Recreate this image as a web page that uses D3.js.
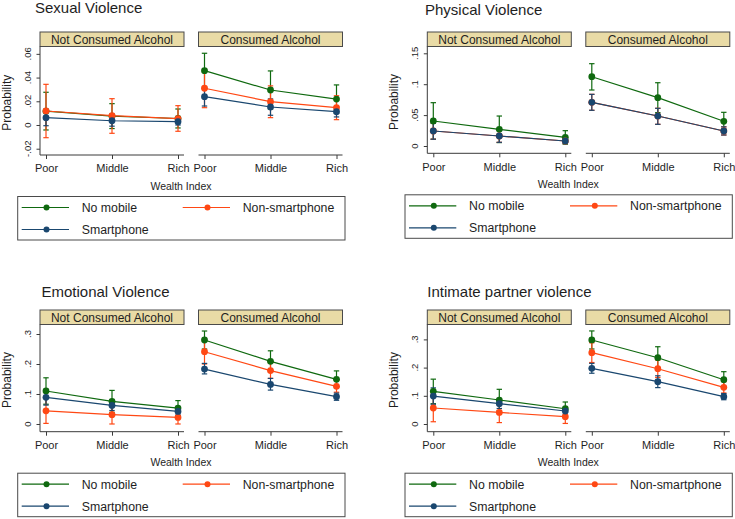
<!DOCTYPE html>
<html>
<head>
<meta charset="utf-8">
<script src="https://cdn.jsdelivr.net/npm/d3@7"></script>
<style>
  html, body { margin: 0; padding: 0; background: #ffffff; }
  svg { display: block; font-family: "Liberation Sans", Arial, sans-serif; }
</style>
</head>
<body>
<script>
// ---------------- DATA ----------------
const wealth = ["Poor", "Middle", "Rich"];
const alcoholGroups = ["Not Consumed Alcohol", "Consumed Alcohol"];
const phoneGroups = ["No mobile", "Non-smartphone", "Smartphone"];
const panelTitles = ["Sexual Violence", "Physical Violence", "Emotional Violence", "Intimate partner violence"];
const xTitle = "Wealth Index";
const yTitle = "Probability";

// values indexed [phone group][alcohol group][wealth]
const sexualMean = [
  [[0.0117, 0.0075, 0.0055], [0.0458, 0.0295, 0.0219]],
  [[0.0118, 0.0079, 0.0053], [0.0310, 0.0197, 0.0146]],
  [[0.0062, 0.0036, 0.0028], [0.0239, 0.0152, 0.0112]]
];
const sexualLow = [
  [[-0.0042, -0.0030, -0.0025], [0.0310, 0.0135, 0.0100]],
  [[-0.0107, -0.0070, -0.0053], [0.0146, 0.0062, 0.0045]],
  [[-0.0006, -0.0010, 0.0000], [0.0160, 0.0082, 0.0068]]
];
const sexualHigh = [
  [[0.0276, 0.0180, 0.0135], [0.0605, 0.0456, 0.0338]],
  [[0.0343, 0.0222, 0.0163], [0.0470, 0.0330, 0.0247]],
  [[0.0130, 0.0080, 0.0055], [0.0320, 0.0220, 0.0156]]
];
const sexualTicks = [-0.02, 0, 0.02, 0.04, 0.06];
const sexualTickLabels = ["-.02", "0", ".02", ".04", ".06"];

const physicalMean = [
  [[0.0405, 0.0270, 0.0140], [0.1121, 0.0782, 0.0400]],
  [[0.0243, 0.0162, 0.0081], [0.0707, 0.0485, 0.0243]],
  [[0.0243, 0.0162, 0.0081], [0.0707, 0.0485, 0.0243]]
];
const physicalLow = [
  [[0.0110, 0.0055, 0.0030], [0.0906, 0.0540, 0.0255]],
  [[0.0110, 0.0060, 0.0040], [0.0578, 0.0351, 0.0178]],
  [[0.0110, 0.0060, 0.0040], [0.0578, 0.0351, 0.0178]]
];
const physicalHigh = [
  [[0.0701, 0.0485, 0.0248], [0.1332, 0.1024, 0.0545]],
  [[0.0370, 0.0260, 0.0120], [0.0836, 0.0610, 0.0310]],
  [[0.0370, 0.0260, 0.0120], [0.0836, 0.0610, 0.0310]]
];
const physicalTicks = [0, 0.05, 0.1, 0.15];
const physicalTickLabels = ["0", ".05", ".1", ".15"];

const emotionalMean = [
  [[0.110, 0.0756, 0.053], [0.280, 0.209, 0.149]],
  [[0.044, 0.031, 0.022], [0.241, 0.178, 0.1256]],
  [[0.089, 0.062, 0.042], [0.183, 0.132, 0.091]]
];
const emotionalLow = [
  [[0.066, 0.039, 0.028], [0.250, 0.174, 0.121]],
  [[0.002, 0.000, 0.000], [0.200, 0.152, 0.106]],
  [[0.063, 0.045, 0.030], [0.167, 0.113, 0.079]]
];
const emotionalHigh = [
  [[0.154, 0.112, 0.078], [0.310, 0.244, 0.177]],
  [[0.086, 0.062, 0.044], [0.282, 0.204, 0.145]],
  [[0.115, 0.080, 0.055], [0.202, 0.152, 0.103]]
];
const emotionalTicks = [0, 0.1, 0.2, 0.3];
const emotionalTickLabels = ["0", ".1", ".2", ".3"];

const ipvMean = [
  [[0.1157, 0.085, 0.054], [0.298, 0.235, 0.157]],
  [[0.0567, 0.041, 0.026], [0.253, 0.196, 0.130]],
  [[0.099, 0.072, 0.046], [0.1975, 0.150, 0.097]]
];
const ipvLow = [
  [[0.072, 0.047, 0.030], [0.266, 0.196, 0.129]],
  [[0.008, 0.005, 0.002], [0.218, 0.165, 0.110]],
  [[0.070, 0.055, 0.035], [0.180, 0.129, 0.086]]
];
const ipvHigh = [
  [[0.159, 0.123, 0.078], [0.330, 0.274, 0.1855]],
  [[0.105, 0.077, 0.050], [0.288, 0.227, 0.150]],
  [[0.128, 0.089, 0.057], [0.215, 0.171, 0.108]]
];
const ipvTicks = [0, 0.1, 0.2, 0.3];
const ipvTickLabels = ["0", ".1", ".2", ".3"];

// ---------------- STYLE / LAYOUT ----------------
const colors = ["#0f690f", "#ff4814", "#1a476f"];
const stripFill = "#e9dba6";
const axisColor = "#3a3a3a";
const textColor = "#1e1e1e";

const panels = [
  { title: panelTitles[0], mean: sexualMean, low: sexualLow, high: sexualHigh, ticks: sexualTicks, tickLabels: sexualTickLabels,
    domain: [-0.0253, 0.0662], ox: 40, stripTop: 32, plotBottom: 155, titleX: 35, titleY: 12.5 },
  { title: panelTitles[1], mean: physicalMean, low: physicalLow, high: physicalHigh, ticks: physicalTicks, tickLabels: physicalTickLabels,
    domain: [-0.0118, 0.1610], ox: 427.3, stripTop: 32, plotBottom: 153.3, titleX: 425, titleY: 15 },
  { title: panelTitles[2], mean: emotionalMean, low: emotionalLow, high: emotionalHigh, ticks: emotionalTicks, tickLabels: emotionalTickLabels,
    domain: [-0.0257, 0.3317], ox: 40, stripTop: 310, plotBottom: 431.7, titleX: 41.5, titleY: 297 },
  { title: panelTitles[3], mean: ipvMean, low: ipvLow, high: ipvHigh, ticks: ipvTicks, tickLabels: ipvTickLabels,
    domain: [-0.0273, 0.3528], ox: 427.3, stripTop: 310, plotBottom: 431.7, titleX: 427.3, titleY: 297 }
];

const stripH = 14.5, subW = 144, subGap = 158.5;

const svg = d3.select("body").append("svg").attr("width", 735).attr("height", 519);

panels.forEach(p => {
  const g = svg.append("g");
  const plotTop = p.stripTop + stripH;
  const y = d3.scaleLinear().domain(p.domain).range([p.plotBottom, plotTop]);

  g.append("text").attr("x", p.titleX).attr("y", p.titleY)
    .attr("font-size", 15).attr("fill", textColor).text(p.title);

  alcoholGroups.forEach((ag, a) => {
    const x0 = p.ox + a * subGap, x1 = x0 + subW;
    const x = d3.scalePoint().domain(wealth).range([x0 + 6, x1 - 6]);

    // strip
    g.append("rect").attr("x", x0).attr("y", p.stripTop).attr("width", subW).attr("height", stripH)
      .attr("fill", stripFill).attr("stroke", "#4a4a4a").attr("stroke-width", 1);
    g.append("text").attr("x", (x0 + x1) / 2).attr("y", p.stripTop + stripH / 2).attr("dy", "0.36em")
      .attr("text-anchor", "middle").attr("font-size", 12).attr("fill", textColor).text(ag);

    // x axis
    const xa = g.append("g").attr("transform", `translate(0,${p.plotBottom})`)
      .call(d3.axisBottom(x).tickSize(4).tickPadding(5.5).tickSizeOuter(0));
    xa.select(".domain").remove();
    xa.selectAll(".tick line").attr("stroke", axisColor);
    xa.selectAll(".tick text").attr("font-size", 11).attr("fill", textColor)
      .attr("font-family", "Liberation Sans, Arial, sans-serif");
    g.append("line").attr("x1", x0).attr("x2", x1).attr("y1", p.plotBottom).attr("y2", p.plotBottom)
      .attr("stroke", axisColor).attr("stroke-width", 1);

    // y axis (left subplot only)
    if (a === 0) {
      g.append("line").attr("x1", x0).attr("x2", x0).attr("y1", plotTop).attr("y2", p.plotBottom)
        .attr("stroke", axisColor).attr("stroke-width", 1);
      const ya = g.append("g").attr("transform", `translate(${x0},0)`)
        .call(d3.axisLeft(y).tickValues(p.ticks).tickSize(3.5).tickFormat(() => ""));
      ya.select(".domain").remove();
      ya.selectAll(".tick line").attr("stroke", axisColor);
      p.ticks.forEach((t, i) => {
        const tx = x0 - 12.5, ty = y(t);
        g.append("text").attr("x", tx).attr("y", ty).attr("dy", "0.35em")
          .attr("transform", `rotate(-90,${tx},${ty})`)
          .attr("text-anchor", "middle").attr("font-size", 9.5).attr("fill", textColor)
          .text(p.tickLabels[i]);
      });
      const lx = x0 - 33, ly = (plotTop + p.plotBottom) / 2 + 2;
      g.append("text").attr("x", lx).attr("y", ly).attr("dy", "0.35em")
        .attr("transform", `rotate(-90,${lx},${ly})`)
        .attr("text-anchor", "middle").attr("font-size", 12).attr("fill", textColor).text(yTitle);
    }

    // confidence intervals
    phoneGroups.forEach((pg, s) => {
      wealth.forEach((w, i) => {
        const cx = x(w), lo = y(p.low[s][a][i]), hi = y(p.high[s][a][i]);
        const c = colors[s];
        g.append("line").attr("x1", cx).attr("x2", cx).attr("y1", lo).attr("y2", hi)
          .attr("stroke", c).attr("stroke-width", 1.2);
        [lo, hi].forEach(yy => g.append("line").attr("x1", cx - 2.7).attr("x2", cx + 2.7)
          .attr("y1", yy).attr("y2", yy).attr("stroke", c).attr("stroke-width", 1.2));
      });
    });

    // lines and markers
    phoneGroups.forEach((pg, s) => {
      const vals = p.mean[s][a];
      const line = d3.line().x((d, i) => x(wealth[i])).y(d => y(d));
      g.append("path").attr("d", line(vals)).attr("fill", "none")
        .attr("stroke", colors[s]).attr("stroke-width", 1.2);
      g.selectAll(null).data(vals).enter().append("circle")
        .attr("cx", (d, i) => x(wealth[i])).attr("cy", d => y(d)).attr("r", 3.4)
        .attr("fill", colors[s]);
    });
  });

  // x title
  g.append("text").attr("x", p.ox + 141).attr("y", p.plotBottom + 31).attr("dy", "0.35em")
    .attr("text-anchor", "middle").attr("font-size", 10.5).attr("fill", textColor).text(xTitle);

  // legend
  const bx = p.ox - 22.3, by = p.plotBottom + 41.5;
  g.append("rect").attr("x", bx).attr("y", by).attr("width", 327.3).attr("height", 43.5)
    .attr("fill", "#ffffff").attr("stroke", "#4a4a4a").attr("stroke-width", 1);
  const slots = [[0, 0], [1, 0], [0, 1]];
  phoneGroups.forEach((pg, s) => {
    const [col, row] = slots[s];
    const ox = bx + (col === 0 ? 4 : 165);
    const oy = by + (row === 0 ? 11 : 33);
    g.append("line").attr("x1", ox).attr("x2", ox + 47.3).attr("y1", oy).attr("y2", oy)
      .attr("stroke", colors[s]).attr("stroke-width", 1.2);
    g.append("circle").attr("cx", ox + 24.8).attr("cy", oy).attr("r", 3).attr("fill", colors[s]);
    g.append("text").attr("x", ox + 60).attr("y", oy).attr("dy", "0.36em")
      .attr("font-size", 12.3).attr("fill", textColor).text(pg);
  });
});
</script>
</body>
</html>
